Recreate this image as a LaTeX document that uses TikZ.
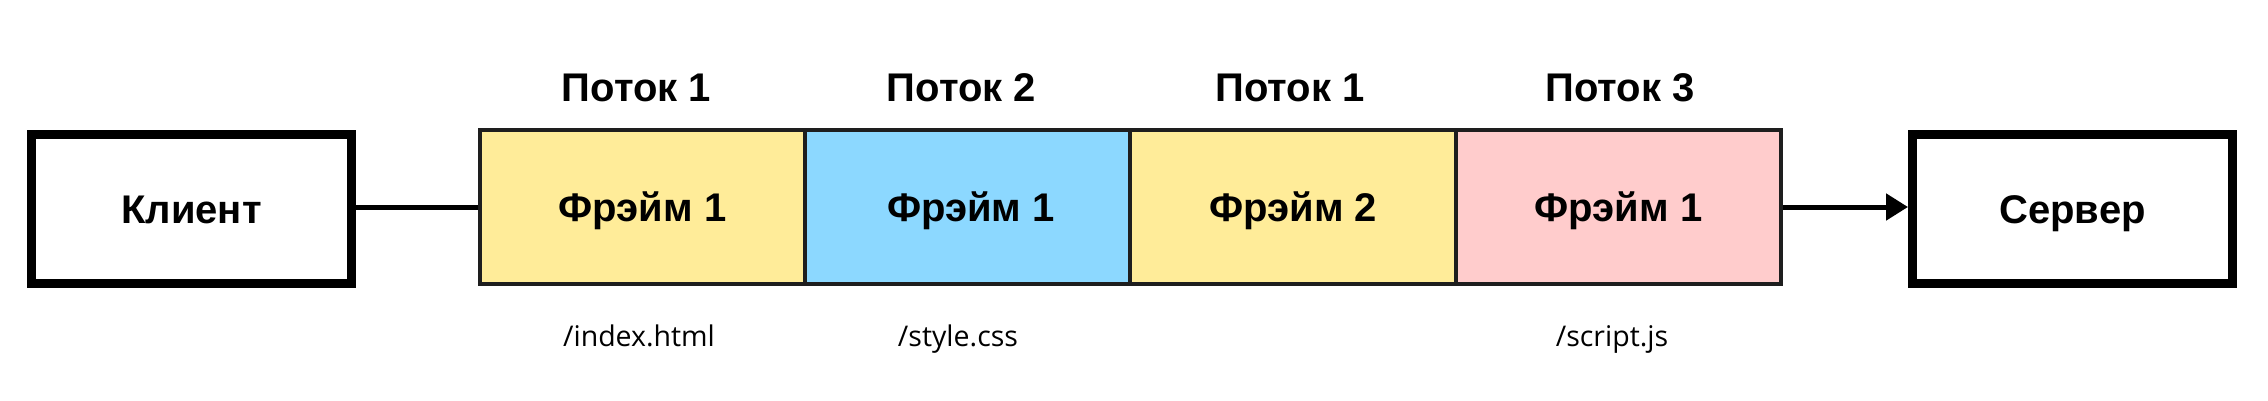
\documentclass[tikz,border=0pt]{standalone}
\usepackage{fontspec}
\setmainfont{Liberation Sans}
\newfontfamily\pathfont{Open Sans}
\usetikzlibrary{arrows.meta}
\definecolor{frameyellow}{RGB}{255,236,153}
\definecolor{frameblue}{RGB}{140,216,255}
\definecolor{framepink}{RGB}{255,204,204}
\definecolor{frameline}{RGB}{30,30,30}
\begin{document}
\begin{tikzpicture}[x=1pt,y=-1pt,
  endbox/.style={draw=black,line width=9pt,fill=white,inner sep=0pt,
    minimum width=320pt,minimum height=149pt,
    font=\fontsize{40}{48}\selectfont\bfseries,text height=28.6pt,text depth=0pt},
  framebox/.style={draw=frameline,line width=4pt,inner sep=0pt,
    minimum width=325.25pt,minimum height=153pt,
    font=\fontsize{40}{48}\selectfont\bfseries,text height=28.6pt,text depth=0pt},
  streamlabel/.style={anchor=base,inner sep=0pt,font=\fontsize{40}{48}\selectfont\bfseries},
  pathlabel/.style={anchor=base,inner sep=0pt,font=\pathfont\fontsize{28.5}{34}\selectfont},
  link/.style={line width=5pt,draw=black}
]
\useasboundingbox (0,0) rectangle (2268,401);
\fill[white] (0,0) rectangle (2268,401);

\node[endbox] (client) at (191.5,209) {Клиент};
\node[endbox] (server) at (2072.5,209) {Сервер};

\node[framebox,fill=frameyellow] (f1) at (642.6,207) {Фрэйм 1};
\node[framebox,fill=frameblue]   (f2) at (967.9,207) {\hspace*{6pt}Фрэйм 1};
\node[framebox,fill=frameyellow] (f3) at (1293.1,207) {Фрэйм 2};
\node[framebox,fill=framepink]   (f4) at (1618.4,207) {Фрэйм 1};

\node[streamlabel] (s1) at (636.5,102) {Поток 1};
\node[streamlabel] (s2) at (961.5,102) {Поток 2};
\node[streamlabel] (s3) at (1290,102) {Поток 1};
\node[streamlabel] (s4) at (1620,102) {Поток 3};

\node[pathlabel] (p1) at (639,346) {/index.html};
\node[pathlabel] (p2) at (958,346) {/style.css};
\node[pathlabel] (p4) at (1612,346) {/script.js};

\draw[link] (f1.west -| client.east) -- (f1.west);
\draw[link,-{Triangle[length=22pt,width=26pt]}] (f4.east) -- (f4.east -| server.west);
\end{tikzpicture}
\end{document}
